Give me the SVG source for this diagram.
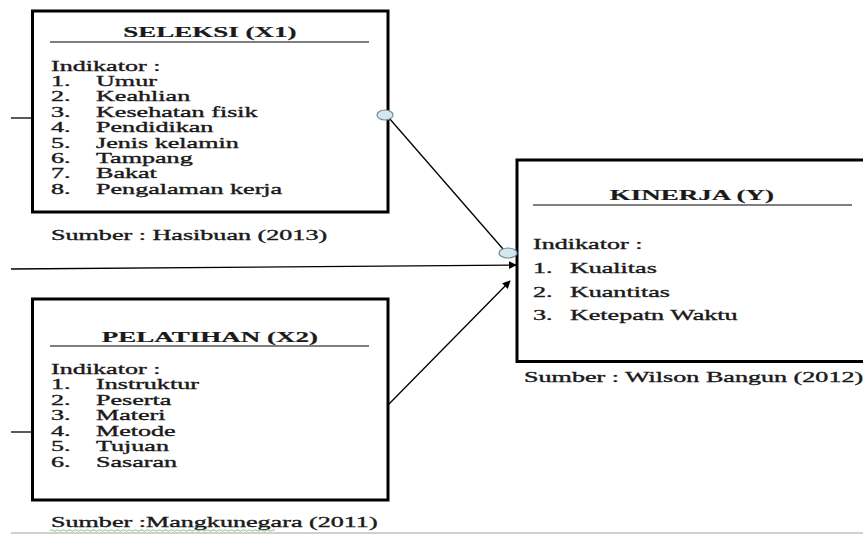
<svg xmlns="http://www.w3.org/2000/svg" width="863" height="534" viewBox="0 0 863 534">
<defs>
<style>
.box{fill:#fff;stroke:#000;stroke-width:3}
.ul{stroke:#000;stroke-width:1.2}
.t{font-family:"Liberation Serif","Times New Roman",serif;font-size:14.5px;fill:#1a1a1a;stroke:#1a1a1a;stroke-width:0.35}
.h{font-weight:bold;text-anchor:middle;font-size:15px;stroke-width:0.2}
.ln{stroke:#000;stroke-width:1.3;fill:none}
.dot{fill:#d3e8ee;stroke:#6f8a92;stroke-width:1.2}
</style>
<marker id="arr" viewBox="0 0 10 10" refX="9" refY="5" markerWidth="8" markerHeight="8" markerUnits="userSpaceOnUse" orient="auto">
<path d="M0,0 L10,5 L0,10 z" fill="#000"/>
</marker>
</defs>
<rect width="863" height="534" fill="#fff"/>

<g id="seleksi">
<rect class="box" x="32.5" y="11" width="355.5" height="201"/>
<line class="ul" x1="50" y1="42" x2="369" y2="42"/>
<g transform="translate(51 0) scale(1.8 1)">
<text class="t h" x="88.3" y="37">SELEKSI  (X1)</text>
<text class="t" x="0" y="71">Indikator :</text>
<text class="t" x="0" y="86">1.<tspan x="25">Umur</tspan></text>
<text class="t" x="0" y="101.5">2.<tspan x="25">Keahlian</tspan></text>
<text class="t" x="0" y="117">3.<tspan x="25">Kesehatan fisik</tspan></text>
<text class="t" x="0" y="132.5">4.<tspan x="25">Pendidikan</tspan></text>
<text class="t" x="0" y="148">5.<tspan x="25">Jenis kelamin</tspan></text>
<text class="t" x="0" y="163">6.<tspan x="25">Tampang</tspan></text>
<text class="t" x="0" y="178.5">7.<tspan x="25">Bakat</tspan></text>
<text class="t" x="0" y="194">8.<tspan x="25">Pengalaman kerja</tspan></text>
<text class="t" x="0" y="240">Sumber : Hasibuan (2013)</text>
</g>
</g>

<g id="pelatihan">
<rect class="box" x="32.5" y="299" width="355.5" height="201"/>
<line class="ul" x1="50" y1="346" x2="369" y2="346"/>
<g transform="translate(51 0) scale(1.8 1)">
<text class="t h" x="88.3" y="342">PELATIHAN (X2)</text>
<text class="t" x="0" y="374">Indikator :</text>
<text class="t" x="0" y="389.5">1.<tspan x="25">Instruktur</tspan></text>
<text class="t" x="0" y="405">2.<tspan x="25">Peserta</tspan></text>
<text class="t" x="0" y="420.5">3.<tspan x="25">Materi</tspan></text>
<text class="t" x="0" y="436">4.<tspan x="25">Metode</tspan></text>
<text class="t" x="0" y="451.5">5.<tspan x="25">Tujuan</tspan></text>
<text class="t" x="0" y="467">6.<tspan x="25">Sasaran</tspan></text>
<text class="t" x="0" y="527">Sumber :Mangkunegara (2011)</text>
</g>
<path d="M50,530.5 q1.5,-1.5 3,0 t3,0 t3,0 t3,0 t3,0 t3,0 t3,0 t3,0 t3,0 t3,0 t3,0 t3,0 t3,0 t3,0 t3,0 t3,0 t3,0 t3,0 t3,0 t3,0 t3,0 t3,0 t3,0 t3,0 t3,0 t3,0 t3,0 t3,0 t3,0 t3,0 t3,0 t3,0 t3,0 t3,0 t3,0 t3,0 t3,0 t3,0 t3,0 t3,0 t3,0 t3,0 t3,0 t3,0 t3,0 t3,0 t3,0 t3,0 t3,0 t3,0 t3,0 t3,0 t3,0 t3,0 t3,0 t3,0 t3,0 t3,0 t3,0 t3,0 t3,0 t3,0 t3,0 t3,0 t3,0 t3,0 t3,0 t3,0 t3,0 t3,0 t3,0 t3,0 t3,0 t3,0 t3,0" fill="none" stroke="#5cb85c" stroke-width="0.8"/>
</g>

<g id="kinerja">
<rect class="box" x="517" y="160" width="350" height="201.5"/>
<line class="ul" x1="533" y1="205" x2="852" y2="205"/>
<g transform="translate(533 0) scale(1.8 1)">
<text class="t h" x="88.3" y="200">KINERJA (Y)</text>
<text class="t" x="0" y="249">Indikator :</text>
<text class="t" x="0" y="273">1.<tspan x="20.5">Kualitas</tspan></text>
<text class="t" x="0" y="297">2.<tspan x="20.5">Kuantitas</tspan></text>
<text class="t" x="0" y="320">3.<tspan x="20.5">Ketepatn Waktu</tspan></text>
<text class="t" x="-5" y="382">Sumber : Wilson Bangun (2012)</text>
</g>
</g>

<g id="connectors">
<line class="ln" x1="11" y1="118" x2="32" y2="118"/>
<line class="ln" x1="11" y1="432" x2="32" y2="432"/>
<line class="ln" x1="11" y1="269" x2="516" y2="265" marker-end="url(#arr)"/>
<line class="ln" x1="389" y1="118" x2="503" y2="249"/>
<line class="ln" x1="388" y1="405" x2="510" y2="281" marker-end="url(#arr)"/>
<ellipse class="dot" cx="385" cy="115" rx="8" ry="5"/>
<ellipse class="dot" cx="508" cy="253" rx="9" ry="5"/>
</g>

<line x1="11" y1="533" x2="863" y2="533" stroke="#a0a0a0" stroke-width="1"/>
</svg>
